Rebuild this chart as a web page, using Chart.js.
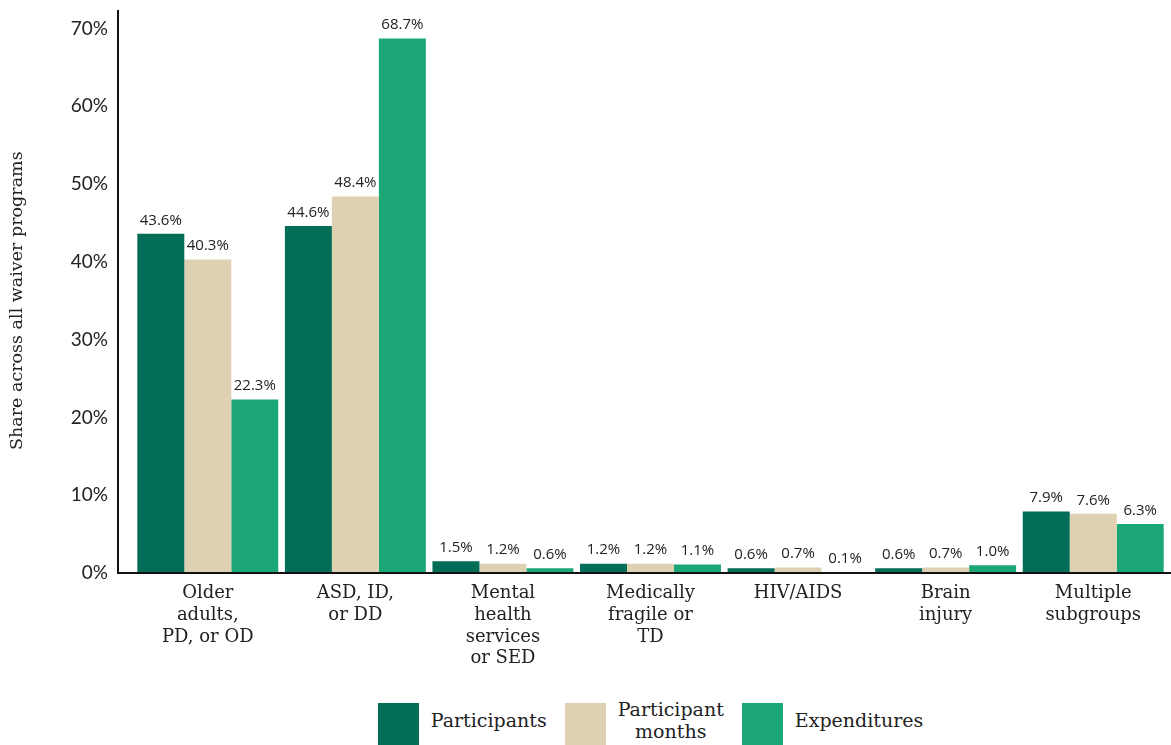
<!DOCTYPE html>
<html>
<head>
<meta charset="utf-8">
<script src="https://cdn.jsdelivr.net/npm/chart.js@4.4.1/dist/chart.umd.min.js"></script>
<style>
  html, body { margin: 0; padding: 0; background: #fff; }
  #wrap { position: relative; width: 1171px; height: 745px; overflow: hidden; }
  #chart-box { position: absolute; left: 0; top: 0; width: 1171px; height: 690px; }
  #legend {
    position: absolute; left: 134px; width: 1033px; top: 703px;
    display: flex; justify-content: center; align-items: flex-start;
    font-family: "DejaVu Serif", serif; font-size: 19px; color: #222;
  }
  .legend-item { display: flex; align-items: center; margin: 0 9px; }
  .legend-swatch { width: 41px; height: 42px; margin-right: 12px; }
  .legend-text { line-height: 22px; text-align: center; margin-top: -8px; }
</style>
</head>
<body>
<div id="wrap">
  <div id="chart-box"><canvas id="chart"></canvas></div>
  <div id="legend"></div>
</div>
<script>
const categories = [
  ["Older", "adults,", "PD, or OD"],
  ["ASD, ID,", "or DD"],
  ["Mental", "health", "services", "or SED"],
  ["Medically", "fragile or", "TD"],
  ["HIV/AIDS"],
  ["Brain", "injury"],
  ["Multiple", "subgroups"],
];
const participants = [43.6, 44.6, 1.5, 1.2, 0.6, 0.6, 7.9];
const participantMonths = [40.3, 48.4, 1.2, 1.2, 0.7, 0.7, 7.6];
const expenditures = [22.3, 68.7, 0.6, 1.1, 0.1, 1.0, 6.3];
const yTicks = [0, 10, 20, 30, 40, 50, 60, 70];

const seriesInfo = [
  { label: "Participants", lines: ["Participants"], data: participants, color: "#036d57" },
  { label: "Participant months", lines: ["Participant", "months"], data: participantMonths, color: "#ddd1b1" },
  { label: "Expenditures", lines: ["Expenditures"], data: expenditures, color: "#1ba775" },
];

const valueLabels = {
  id: "valueLabels",
  afterDatasetsDraw(chart) {
    const ctx = chart.ctx;
    ctx.save();
    ctx.font = '15px "Open Sans", sans-serif';
    ctx.fillStyle = "#222";
    ctx.textAlign = "center";
    ctx.textBaseline = "bottom";
    chart.data.datasets.forEach((dataset, di) => {
      chart.getDatasetMeta(di).data.forEach((bar, i) => {
        ctx.fillText(dataset.data[i].toFixed(1) + "%", bar.x, bar.y - 6);
      });
    });
    ctx.restore();
  },
};

// axis lines sit a little outside the bar area, like the original
const axisLines = {
  id: "axisLines",
  afterDraw(chart) {
    const { ctx, chartArea } = chart;
    const left = chartArea.left - 16;
    ctx.save();
    ctx.strokeStyle = "#111";
    ctx.lineWidth = 2;
    ctx.beginPath();
    ctx.moveTo(left, 10);
    ctx.lineTo(left, chartArea.bottom);
    ctx.lineTo(chart.width, chartArea.bottom);
    ctx.stroke();
    ctx.restore();
  },
};

new Chart(document.querySelector("#chart"), {
  type: "bar",
  data: {
    labels: categories,
    datasets: seriesInfo.map((s) => ({
      label: s.label,
      data: s.data,
      backgroundColor: s.color,
      borderWidth: 0,
      barPercentage: 1,
      categoryPercentage: 0.955,
    })),
  },
  options: {
    responsive: true,
    maintainAspectRatio: false,
    animation: false,
    layout: { padding: { top: 0, right: 4 } },
    plugins: {
      legend: { display: false },
      tooltip: { enabled: false },
    },
    scales: {
      x: {
        grid: { display: false, drawTicks: false },
        border: { display: false },
        ticks: {
          color: "#222",
          padding: 10,
          maxRotation: 0,
          autoSkip: false,
          font: { family: "DejaVu Serif", size: 18, lineHeight: 1.2 },
        },
        afterFit(scale) { scale.height = 117; },
      },
      y: {
        min: 0,
        max: 70,
        afterBuildTicks(scale) { scale.ticks = yTicks.map((v) => ({ value: v })); },
        grid: { display: false, drawTicks: false },
        border: { display: false },
        ticks: {
          color: "#222",
          padding: 26,
          // small lineHeight keeps the top overhang down; labels are single line
          font: { family: "Lato", size: 19, lineHeight: 0.25 },
          callback: (v) => v + "%",
        },
        title: {
          display: true,
          text: "Share across all waiver programs",
          color: "#222",
          padding: { top: 7 },
          font: { family: "DejaVu Serif", size: 17.5 },
        },
        afterFit(scale) { scale.width = 134; },
      },
    },
  },
  plugins: [valueLabels, axisLines],
});

document.querySelector("#legend").innerHTML = seriesInfo
  .map(
    (s) => `
    <div class="legend-item">
      <div class="legend-swatch" style="background:${s.color}"></div>
      <div class="legend-text">${s.lines.join("<br>")}</div>
    </div>`,
  )
  .join("");
</script>
</body>
</html>
